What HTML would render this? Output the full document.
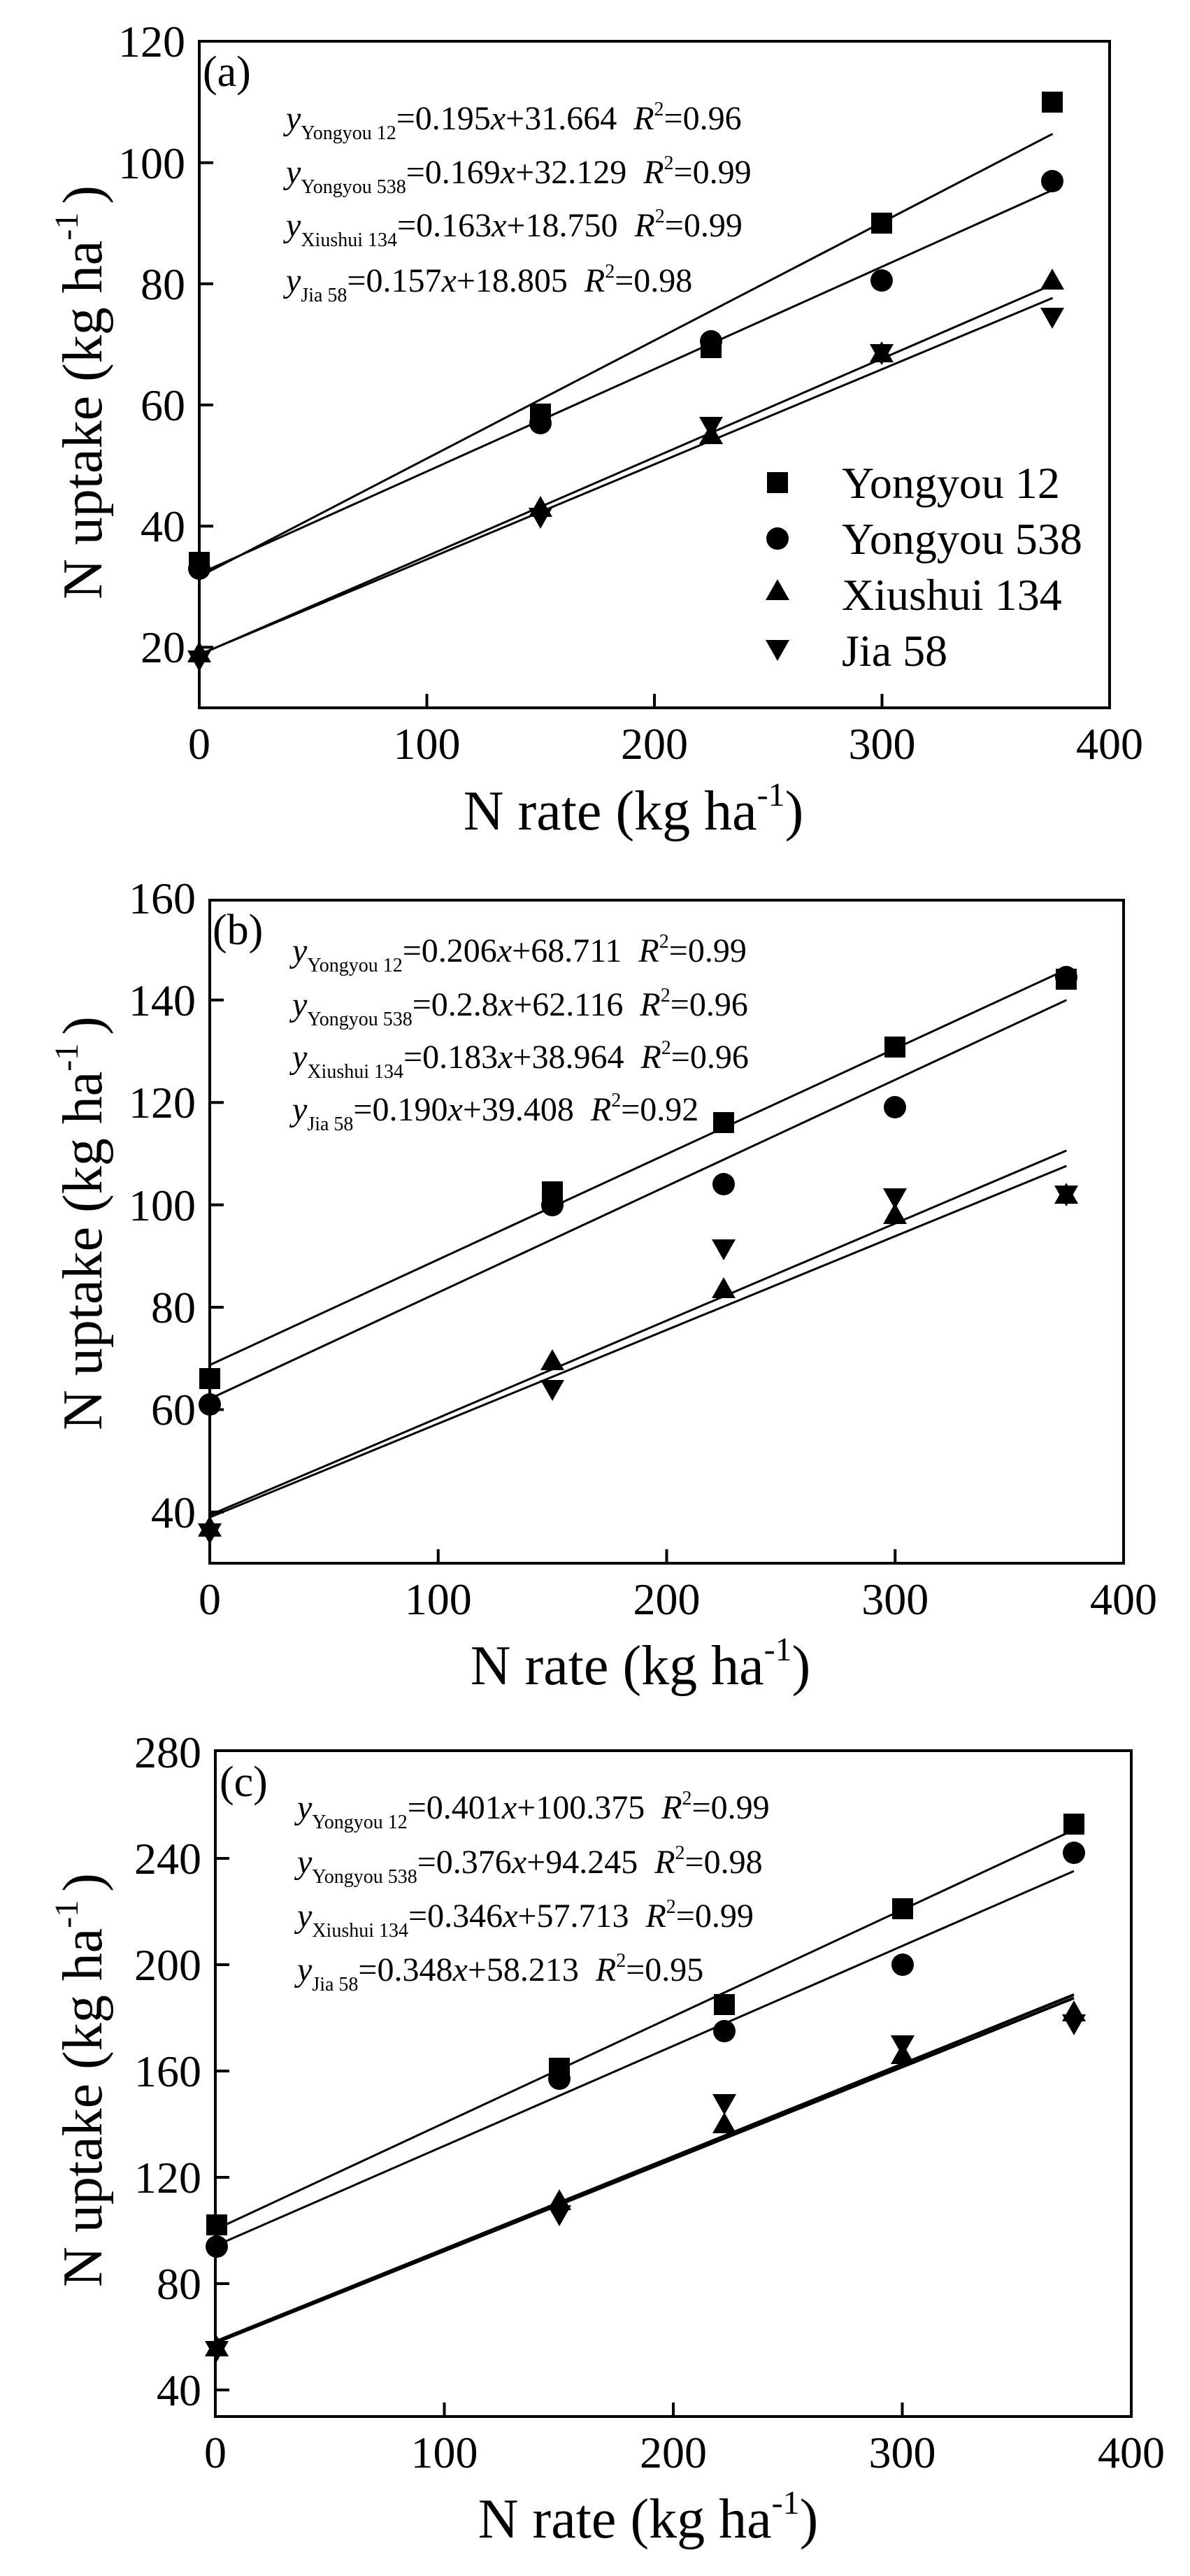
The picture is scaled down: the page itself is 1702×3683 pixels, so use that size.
<!DOCTYPE html>
<html><head><meta charset="utf-8"><style>
html,body{margin:0;padding:0;background:#fff}
svg{display:block}
svg text, svg tspan{font-family:"Liberation Serif","Times New Roman",serif;fill:#000}
</style></head><body>
<svg width="1702" height="3683" viewBox="0 0 1702 3683" xmlns="http://www.w3.org/2000/svg" font-family="Liberation Serif, serif">
<defs>
<rect id="sq" x="-15" y="-15" width="30" height="30"/>
<circle id="ci" r="16"/>
<polygon id="tu" points="0,-17 17,13 -17,13"/>
<polygon id="td" points="0,17 17,-13 -17,-13"/>
</defs>
<rect width="1702" height="3683" fill="#fff"/>

<!-- ===== Panel a ===== -->
<g stroke="#000" stroke-width="4" fill="none">
<rect x="285" y="59" width="1302" height="953"/>
<path d="M285 925.4h20M285 752.2h20M285 579h20M285 405.8h20M285 232.6h20M610.5 1012v-20M936 1012v-20M1261.5 1012v-20"/>
</g>
<g stroke="#000" stroke-width="3">
<line x1="285" y1="824.4" x2="1505.6" y2="191.3"/>
<line x1="285" y1="820.4" x2="1505.6" y2="271.6"/>
<line x1="285" y1="936.2" x2="1505.6" y2="406.9"/>
<line x1="285" y1="935.7" x2="1505.6" y2="426"/>
</g>
<g>
<use href="#sq" x="285" y="804"/><use href="#sq" x="773" y="592"/><use href="#sq" x="1017" y="497"/><use href="#sq" x="1261" y="319"/><use href="#sq" x="1505" y="146"/>
<use href="#ci" x="285" y="813"/><use href="#ci" x="773" y="605"/><use href="#ci" x="1017" y="488"/><use href="#ci" x="1261" y="401"/><use href="#ci" x="1505" y="259"/>
<use href="#tu" x="285" y="934"/><use href="#tu" x="773" y="726"/><use href="#tu" x="1017" y="622"/><use href="#tu" x="1261" y="505"/><use href="#tu" x="1505" y="401"/>
<use href="#td" x="285" y="943"/><use href="#td" x="773" y="739"/><use href="#td" x="1017" y="609"/><use href="#td" x="1261" y="505"/><use href="#td" x="1505" y="453"/>
</g>
<g font-size="64" text-anchor="end" font-family="Liberation Serif, serif">
<text x="265" y="947">20</text><text x="265" y="774">40</text><text x="265" y="601">60</text><text x="265" y="428">80</text><text x="265" y="255">100</text><text x="265" y="81">120</text>
</g>
<g font-size="64" text-anchor="middle" font-family="Liberation Serif, serif">
<text x="285" y="1085">0</text><text x="610.5" y="1085">100</text><text x="936" y="1085">200</text><text x="1261.5" y="1085">300</text><text x="1587" y="1085">400</text>
</g>
<text x="906" y="1186" font-size="80" text-anchor="middle" font-family="Liberation Serif, serif">N rate (kg ha<tspan font-size="48" dy="-34">-1</tspan><tspan dy="34">)</tspan></text>
<text transform="translate(145,561) rotate(-90)" font-size="80" text-anchor="middle" font-family="Liberation Serif, serif">N uptake (kg ha<tspan font-size="48" dy="-34">-1</tspan><tspan dy="34" dx="12">)</tspan></text>
<text x="290" y="123" font-size="62">(a)</text>
<g font-size="48">
<text x="409" y="185"><tspan font-style="italic">y</tspan><tspan font-size="28" dy="14">Yongyou 12</tspan><tspan dy="-14">=0.195</tspan><tspan font-style="italic">x</tspan>+31.664<tspan font-style="italic" dx="24">R</tspan><tspan font-size="28" dy="-20">2</tspan><tspan dy="20">=0.96</tspan></text>
<text x="409" y="262"><tspan font-style="italic">y</tspan><tspan font-size="28" dy="14">Yongyou 538</tspan><tspan dy="-14">=0.169</tspan><tspan font-style="italic">x</tspan>+32.129<tspan font-style="italic" dx="24">R</tspan><tspan font-size="28" dy="-20">2</tspan><tspan dy="20">=0.99</tspan></text>
<text x="409" y="338"><tspan font-style="italic">y</tspan><tspan font-size="28" dy="14">Xiushui 134</tspan><tspan dy="-14">=0.163</tspan><tspan font-style="italic">x</tspan>+18.750<tspan font-style="italic" dx="24">R</tspan><tspan font-size="28" dy="-20">2</tspan><tspan dy="20">=0.99</tspan></text>
<text x="409" y="417"><tspan font-style="italic">y</tspan><tspan font-size="28" dy="14">Jia 58</tspan><tspan dy="-14">=0.157</tspan><tspan font-style="italic">x</tspan>+18.805<tspan font-style="italic" dx="24">R</tspan><tspan font-size="28" dy="-20">2</tspan><tspan dy="20">=0.98</tspan></text>
</g>
<use href="#sq" x="1112" y="690"/><use href="#ci" x="1112" y="770"/><use href="#tu" x="1112" y="845"/><use href="#td" x="1112" y="928"/>
<g font-size="64" font-family="Liberation Serif, serif">
<text x="1204" y="712">Yongyou 12</text><text x="1204" y="792">Yongyou 538</text><text x="1204" y="872">Xiushui 134</text><text x="1204" y="952">Jia 58</text>
</g>

<!-- ===== Panel b ===== -->
<g stroke="#000" stroke-width="4" fill="none">
<rect x="300" y="1287" width="1307" height="948"/>
<path d="M300 2161.8h20M300 2015.4h20M300 1869h20M300 1722.6h20M300 1576.2h20M300 1429.8h20M626.75 2235v-20M953.5 2235v-20M1280.25 2235v-20"/>
</g>
<g stroke="#000" stroke-width="3">
<line x1="300" y1="1951.6" x2="1525.3" y2="1386.2"/>
<line x1="300" y1="2000" x2="1525.3" y2="1429.8"/>
<line x1="300" y1="2169.4" x2="1525.3" y2="1667"/>
<line x1="300" y1="2166.1" x2="1525.3" y2="1645"/>
</g>
<g>
<use href="#sq" x="300" y="1971"/><use href="#sq" x="790" y="1704"/><use href="#sq" x="1035" y="1605"/><use href="#sq" x="1280" y="1497"/><use href="#sq" x="1525" y="1400"/>
<use href="#ci" x="300" y="2008"/><use href="#ci" x="790" y="1723"/><use href="#ci" x="1035" y="1693"/><use href="#ci" x="1280" y="1583"/><use href="#ci" x="1525" y="1397"/>
<use href="#tu" x="300" y="2184"/><use href="#tu" x="790" y="1946"/><use href="#tu" x="1035" y="1843"/><use href="#tu" x="1280" y="1737"/><use href="#tu" x="1525" y="1708"/>
<use href="#td" x="300" y="2191"/><use href="#td" x="790" y="1986"/><use href="#td" x="1035" y="1785"/><use href="#td" x="1280" y="1712"/><use href="#td" x="1525" y="1708"/>
</g>
<g font-size="64" text-anchor="end" font-family="Liberation Serif, serif">
<text x="280" y="2184">40</text><text x="280" y="2037">60</text><text x="280" y="1891">80</text><text x="280" y="1745">100</text><text x="280" y="1598">120</text><text x="280" y="1452">140</text><text x="280" y="1306">160</text>
</g>
<g font-size="64" text-anchor="middle" font-family="Liberation Serif, serif">
<text x="300" y="2308">0</text><text x="626.75" y="2308">100</text><text x="953.5" y="2308">200</text><text x="1280.25" y="2308">300</text><text x="1607" y="2308">400</text>
</g>
<text x="916" y="2408" font-size="80" text-anchor="middle" font-family="Liberation Serif, serif">N rate (kg ha<tspan font-size="48" dy="-34">-1</tspan><tspan dy="34">)</tspan></text>
<text transform="translate(145,1749) rotate(-90)" font-size="80" text-anchor="middle" font-family="Liberation Serif, serif">N uptake (kg ha<tspan font-size="48" dy="-34">-1</tspan><tspan dy="34" dx="12">)</tspan></text>
<text x="304" y="1350" font-size="62">(b)</text>
<g font-size="48">
<text x="418" y="1375"><tspan font-style="italic">y</tspan><tspan font-size="28" dy="14">Yongyou 12</tspan><tspan dy="-14">=0.206</tspan><tspan font-style="italic">x</tspan>+68.711<tspan font-style="italic" dx="24">R</tspan><tspan font-size="28" dy="-20">2</tspan><tspan dy="20">=0.99</tspan></text>
<text x="418" y="1452"><tspan font-style="italic">y</tspan><tspan font-size="28" dy="14">Yongyou 538</tspan><tspan dy="-14">=0.2.8</tspan><tspan font-style="italic">x</tspan>+62.116<tspan font-style="italic" dx="24">R</tspan><tspan font-size="28" dy="-20">2</tspan><tspan dy="20">=0.96</tspan></text>
<text x="418" y="1527"><tspan font-style="italic">y</tspan><tspan font-size="28" dy="14">Xiushui 134</tspan><tspan dy="-14">=0.183</tspan><tspan font-style="italic">x</tspan>+38.964<tspan font-style="italic" dx="24">R</tspan><tspan font-size="28" dy="-20">2</tspan><tspan dy="20">=0.96</tspan></text>
<text x="418" y="1602"><tspan font-style="italic">y</tspan><tspan font-size="28" dy="14">Jia 58</tspan><tspan dy="-14">=0.190</tspan><tspan font-style="italic">x</tspan>+39.408<tspan font-style="italic" dx="24">R</tspan><tspan font-size="28" dy="-20">2</tspan><tspan dy="20">=0.92</tspan></text>
</g>

<!-- ===== Panel c ===== -->
<g stroke="#000" stroke-width="4" fill="none">
<rect x="308" y="2503" width="1310" height="952"/>
<path d="M308 3417h20M308 3265h20M308 3113h20M308 2961h20M308 2809h20M308 2657h20M635.5 3455v-20M963 3455v-20M1290.5 3455v-20"/>
</g>
<g stroke="#000" stroke-width="3">
<line x1="308" y1="3187.6" x2="1536" y2="2616.2"/>
<line x1="308" y1="3210.9" x2="1536" y2="2675.1"/>
<line x1="308" y1="3349.7" x2="1536" y2="2856.6" stroke-width="4"/>
<line x1="308" y1="3347.8" x2="1536" y2="2851.9" stroke-width="4"/>
</g>
<g>
<use href="#sq" x="310" y="3181"/><use href="#sq" x="800" y="2957"/><use href="#sq" x="1036" y="2866"/><use href="#sq" x="1291" y="2729"/><use href="#sq" x="1536" y="2608"/>
<use href="#ci" x="310" y="3212"/><use href="#ci" x="800" y="2972"/><use href="#ci" x="1036" y="2904"/><use href="#ci" x="1291" y="2809"/><use href="#ci" x="1536" y="2649"/>
<use href="#tu" x="310" y="3356"/><use href="#tu" x="800" y="3147"/><use href="#tu" x="1036" y="3037"/><use href="#tu" x="1291" y="2938"/><use href="#tu" x="1536" y="2877"/>
<use href="#td" x="310" y="3360"/><use href="#td" x="800" y="3166"/><use href="#td" x="1036" y="3007"/><use href="#td" x="1291" y="2923"/><use href="#td" x="1536" y="2893"/>
</g>
<g font-size="64" text-anchor="end" font-family="Liberation Serif, serif">
<text x="288" y="3439">40</text><text x="288" y="3287">80</text><text x="288" y="3135">120</text><text x="288" y="2983">160</text><text x="288" y="2831">200</text><text x="288" y="2679">240</text><text x="288" y="2527">280</text>
</g>
<g font-size="64" text-anchor="middle" font-family="Liberation Serif, serif">
<text x="308" y="3528">0</text><text x="635.5" y="3528">100</text><text x="963" y="3528">200</text><text x="1290.5" y="3528">300</text><text x="1618" y="3528">400</text>
</g>
<text x="927" y="3628" font-size="80" text-anchor="middle" font-family="Liberation Serif, serif">N rate (kg ha<tspan font-size="48" dy="-34">-1</tspan><tspan dy="34">)</tspan></text>
<text transform="translate(145,2974) rotate(-90)" font-size="80" text-anchor="middle" font-family="Liberation Serif, serif">N uptake (kg ha<tspan font-size="48" dy="-34">-1</tspan><tspan dy="34" dx="12">)</tspan></text>
<text x="314" y="2568" font-size="62">(c)</text>
<g font-size="48">
<text x="425" y="2600"><tspan font-style="italic">y</tspan><tspan font-size="28" dy="14">Yongyou 12</tspan><tspan dy="-14">=0.401</tspan><tspan font-style="italic">x</tspan>+100.375<tspan font-style="italic" dx="24">R</tspan><tspan font-size="28" dy="-20">2</tspan><tspan dy="20">=0.99</tspan></text>
<text x="425" y="2678"><tspan font-style="italic">y</tspan><tspan font-size="28" dy="14">Yongyou 538</tspan><tspan dy="-14">=0.376</tspan><tspan font-style="italic">x</tspan>+94.245<tspan font-style="italic" dx="24">R</tspan><tspan font-size="28" dy="-20">2</tspan><tspan dy="20">=0.98</tspan></text>
<text x="425" y="2755"><tspan font-style="italic">y</tspan><tspan font-size="28" dy="14">Xiushui 134</tspan><tspan dy="-14">=0.346</tspan><tspan font-style="italic">x</tspan>+57.713<tspan font-style="italic" dx="24">R</tspan><tspan font-size="28" dy="-20">2</tspan><tspan dy="20">=0.99</tspan></text>
<text x="425" y="2832"><tspan font-style="italic">y</tspan><tspan font-size="28" dy="14">Jia 58</tspan><tspan dy="-14">=0.348</tspan><tspan font-style="italic">x</tspan>+58.213<tspan font-style="italic" dx="24">R</tspan><tspan font-size="28" dy="-20">2</tspan><tspan dy="20">=0.95</tspan></text>
</g>
</svg>
</body></html>
